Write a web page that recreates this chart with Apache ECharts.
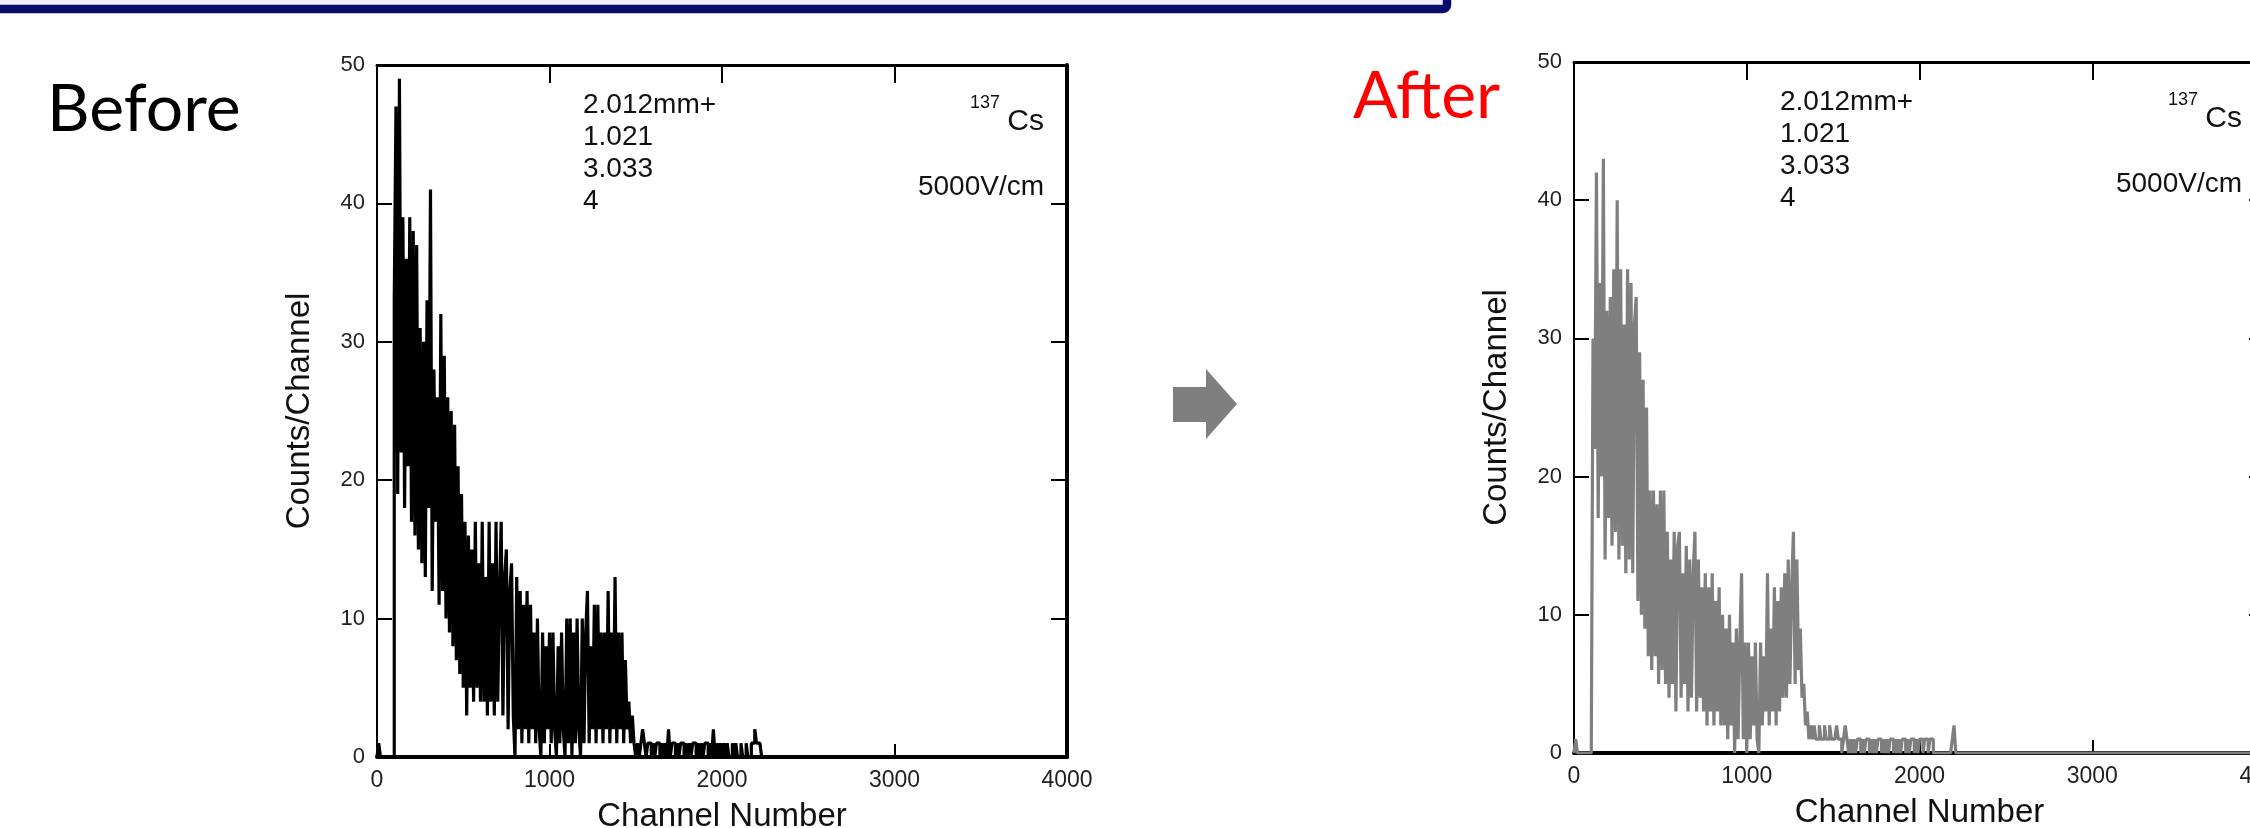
<!DOCTYPE html>
<html>
<head>
<meta charset="utf-8">
<title>137Cs spectrum, before and after</title>
<script src="https://cdn.jsdelivr.net/npm/echarts@6/dist/echarts.min.js"></script>
<style>
  html, body { margin: 0; padding: 0; background: #ffffff; }
  #chart { width: 2250px; height: 828px; }
</style>
</head>
<body>
<div id="chart"></div>
<script>
// Pulse-height spectra, counts per channel, one value per 10-channel bin starting at channel 0.
const binWidth = 10;
const lastChannel = 4000;

const beforeCounts = [
  0, 1, 0, 0, 0, 0, 0, 0, 0, 0,
  33, 47, 19, 49, 22, 39, 18, 36, 21, 39,
  17, 38, 16, 37, 15, 31, 14, 30, 13, 33,
  18, 41, 12, 28, 17, 26, 11, 32, 12, 29,
  10, 26, 9, 25, 8, 24, 7, 21, 6, 19,
  5, 17, 3, 16, 5, 15, 4, 17, 5, 14,
  4, 17, 4, 13, 3, 17, 4, 14, 3, 17,
  4, 12, 17, 3, 13, 15, 2, 12, 14, 3,
  0, 13, 2, 12, 1, 11, 2, 12, 1, 11,
  2, 9, 1, 10, 2, 0, 9, 1, 8, 2,
  9, 1, 9, 2, 0, 8, 1, 9, 2, 0,
  10, 1, 10, 0, 9, 1, 10, 2, 0, 10,
  1, 9, 12, 1, 8, 2, 11, 1, 11, 2,
  9, 1, 9, 2, 12, 1, 9, 2, 13, 1,
  9, 2, 9, 1, 7, 2, 4, 1, 3, 1,
  0, 1, 0, 1, 2, 1, 0, 1, 1, 0,
  1, 0, 1, 1, 0, 1, 0, 1, 0, 2,
  0, 1, 1, 0, 1, 0, 1, 1, 0, 1,
  0, 1, 0, 1, 1, 0, 1, 0, 1, 0,
  1, 1, 0, 1, 0, 2, 0, 1, 0, 1,
  0, 1, 0, 1, 0, 0, 1, 0, 1, 0,
  0, 1, 0, 0, 1, 0, 0, 1, 1, 2,
  1, 1, 1, 0
];

const afterCounts = [
  0, 1, 0, 0, 0, 0, 0, 0, 0, 0,
  0, 30, 22, 42, 17, 34, 20, 43, 14, 32,
  17, 33, 15, 35, 16, 40, 14, 35, 15, 31,
  13, 35, 14, 34, 13, 31, 33, 11, 29, 10,
  27, 9, 25, 7, 19, 6, 19, 7, 18, 5,
  19, 6, 19, 5, 16, 4, 14, 5, 16, 3,
  15, 16, 4, 13, 5, 15, 3, 14, 4, 13,
  16, 3, 14, 4, 12, 3, 13, 2, 12, 3,
  13, 2, 11, 3, 12, 2, 10, 2, 9, 1,
  10, 2, 8, 0, 9, 1, 8, 13, 1, 8,
  0, 8, 1, 7, 2, 8, 1, 0, 8, 2,
  7, 3, 13, 2, 9, 3, 12, 2, 11, 3,
  12, 4, 13, 4, 14, 5, 12, 16, 5, 14,
  6, 9, 4, 5, 2, 3, 1, 2, 1, 2,
  1, 1, 2, 1, 1, 2, 1, 1, 2, 1,
  1, 1, 2, 1, 1, 0, 1, 2, 1, 0,
  1, 0, 1, 0, 1, 1, 0, 1, 0, 1,
  1, 0, 1, 0, 1, 0, 1, 1, 0, 1,
  0, 1, 0, 1, 1, 0, 1, 0, 1, 0,
  1, 1, 0, 1, 0, 1, 1, 0, 1, 0,
  1, 1, 0, 1, 1, 0, 1, 1, 0, 0,
  0, 0, 0, 0, 0, 0, 0, 0, 0, 1,
  2, 0
];

const channelTicks = [0, 1000, 2000, 3000, 4000];
const countTicks = [0, 10, 20, 30, 40, 50];
const noteLines = ['2.012mm+', '1.021', '3.033', '4'];
const isotopeMass = '137';
const isotopeSymbol = 'Cs';
const fieldLabel = '5000V/cm';
const panelTitles = ['Before', 'After'];
const xName = 'Channel Number';
const yName = 'Counts/Channel';

// ---- layout ----
const FONT = 'Arial, "Liberation Sans", Helvetica, sans-serif';
const TICK_FONT = '"Liberation Sans Narrow", "Arial Narrow", Arial, "Liberation Sans", sans-serif';
const TITLE_FONT = 'Lato, "Open Sans", sans-serif';
const panels = [
  { left: 377, top: 65, width: 690, height: 692, color: '#000000' },
  { left: 1574, top: 62, width: 691, height: 691, color: '#7f7f7f' }
];

function toSteps(counts) {
  const pts = counts.map((c, i) => [i * binWidth, c]);
  pts.push([counts.length * binWidth, 0]);
  pts.push([lastChannel, 0]);
  return pts;
}

const xMin = channelTicks[0], xMax = channelTicks[channelTicks.length - 1];
const xStep = channelTicks[1] - channelTicks[0];
const yMin = countTicks[0], yMax = countTicks[countTicks.length - 1];
const yStep = countTicks[1] - countTicks[0];
const plain = v => String(v);

const grid = [], xAxis = [], yAxis = [], series = [], graphic = [];

panels.forEach((p, i) => {
  grid.push({ left: p.left, top: p.top, width: p.width, height: p.height,
    containLabel: false, outerBoundsMode: 'none', show: false });
  // bottom axis with labels
  xAxis.push({
    type: 'value', gridIndex: i, position: 'bottom', min: xMin, max: xMax, interval: xStep,
    name: xName, nameLocation: 'middle', nameGap: 43,
    nameTextStyle: { fontSize: 33, color: '#111', fontFamily: FONT },
    axisLine: { show: true, onZero: false, lineStyle: { color: '#000', width: 4 } },
    axisTick: { show: true, inside: true, length: 13, lineStyle: { color: '#000', width: 2 } },
    axisLabel: { show: true, margin: 12, fontSize: 23, color: '#222', fontFamily: TICK_FONT, formatter: plain },
    splitLine: { show: false }
  });
  // top frame with mirrored ticks
  xAxis.push({
    type: 'value', gridIndex: i, position: 'top', min: xMin, max: xMax, interval: xStep,
    axisLine: { show: true, onZero: false, lineStyle: { color: '#000', width: 3 } },
    axisTick: { show: true, inside: true, length: 18, lineStyle: { color: '#000', width: 2 } },
    axisLabel: { show: false }, splitLine: { show: false }
  });
  // left axis with labels
  yAxis.push({
    type: 'value', gridIndex: i, position: 'left', min: yMin, max: yMax, interval: yStep,
    name: yName, nameLocation: 'middle', nameGap: 61,
    nameTextStyle: { fontSize: 33, color: '#111', fontFamily: FONT },
    axisLine: { show: true, onZero: false, lineStyle: { color: '#000', width: 2 } },
    axisTick: { show: true, inside: true, length: 15, lineStyle: { color: '#000', width: 2 } },
    axisLabel: { show: true, margin: 12, fontSize: 22, color: '#222', fontFamily: TICK_FONT, formatter: plain },
    splitLine: { show: false }
  });
  // right frame with mirrored ticks
  yAxis.push({
    type: 'value', gridIndex: i, position: 'right', min: yMin, max: yMax, interval: yStep,
    axisLine: { show: true, onZero: false, lineStyle: { color: '#000', width: 4 } },
    axisTick: { show: true, inside: true, length: 16, lineStyle: { color: '#000', width: 2 } },
    axisLabel: { show: false }, splitLine: { show: false }
  });

  series.push({
    type: 'line', name: panelTitles[i], xAxisIndex: i * 2, yAxisIndex: i * 2,
    data: toSteps(i === 0 ? beforeCounts : afterCounts),
    step: 'end', showSymbol: false, symbol: 'none', clip: true, sampling: null,
    lineStyle: { color: p.color, width: 3.2, join: 'bevel', cap: 'butt' },
    emphasis: { disabled: true }, z: 1
  });

  // in-plot annotations
  const right = p.left + p.width;
  noteLines.forEach((t, k) => {
    graphic.push({ type: 'text', x: p.left + 206, y: p.top + 40 + 32 * k, z: 10,
      style: { text: t, fontSize: 28, fontFamily: FONT, fill: '#111', align: 'left', verticalAlign: 'middle' } });
  });
  graphic.push({ type: 'text', x: right - 23, y: p.top + 57, z: 10,
    style: { text: isotopeSymbol, fontSize: 30, fontFamily: FONT, fill: '#111', align: 'right', verticalAlign: 'middle' } });
  graphic.push({ type: 'text', x: right - 67, y: p.top + 38, z: 10,
    style: { text: isotopeMass, fontSize: 18, fontFamily: FONT, fill: '#111', align: 'right', verticalAlign: 'middle' } });
  graphic.push({ type: 'text', x: right - 23, y: p.top + 122, z: 10,
    style: { text: fieldLabel, fontSize: 28, fontFamily: FONT, fill: '#111', align: 'right', verticalAlign: 'middle' } });
});

// slide decorations: header frame, panel titles, arrow
graphic.push({ type: 'rect', z: 0, shape: { x: -20, y: -30, width: 1467, height: 39, r: 4 },
  style: { fill: '#f1f1f8', stroke: '#0b0b6b', lineWidth: 8.5 } });
graphic.push({ type: 'text', x: 47, y: 110, z: 10,
  style: { text: panelTitles[0], fontSize: 66, fontFamily: TITLE_FONT, fill: '#000', align: 'left', verticalAlign: 'middle' } });
graphic.push({ type: 'text', x: 1500, y: 97, z: 10,
  style: { text: panelTitles[1], fontSize: 66, fontFamily: TITLE_FONT, fill: '#ff0000', align: 'right', verticalAlign: 'middle' } });
graphic.push({ type: 'polygon', z: 0,
  shape: { points: [[1173, 387], [1206, 387], [1206, 369], [1237, 404], [1206, 439], [1206, 422], [1173, 422]] },
  style: { fill: '#7f7f7f' } });

const chart = echarts.init(document.getElementById('chart'), null, { renderer: 'canvas' });
chart.setOption({
  animation: false,
  backgroundColor: '#ffffff',
  grid, xAxis, yAxis, series, graphic,
  tooltip: { show: false }
});
</script>
</body>
</html>
